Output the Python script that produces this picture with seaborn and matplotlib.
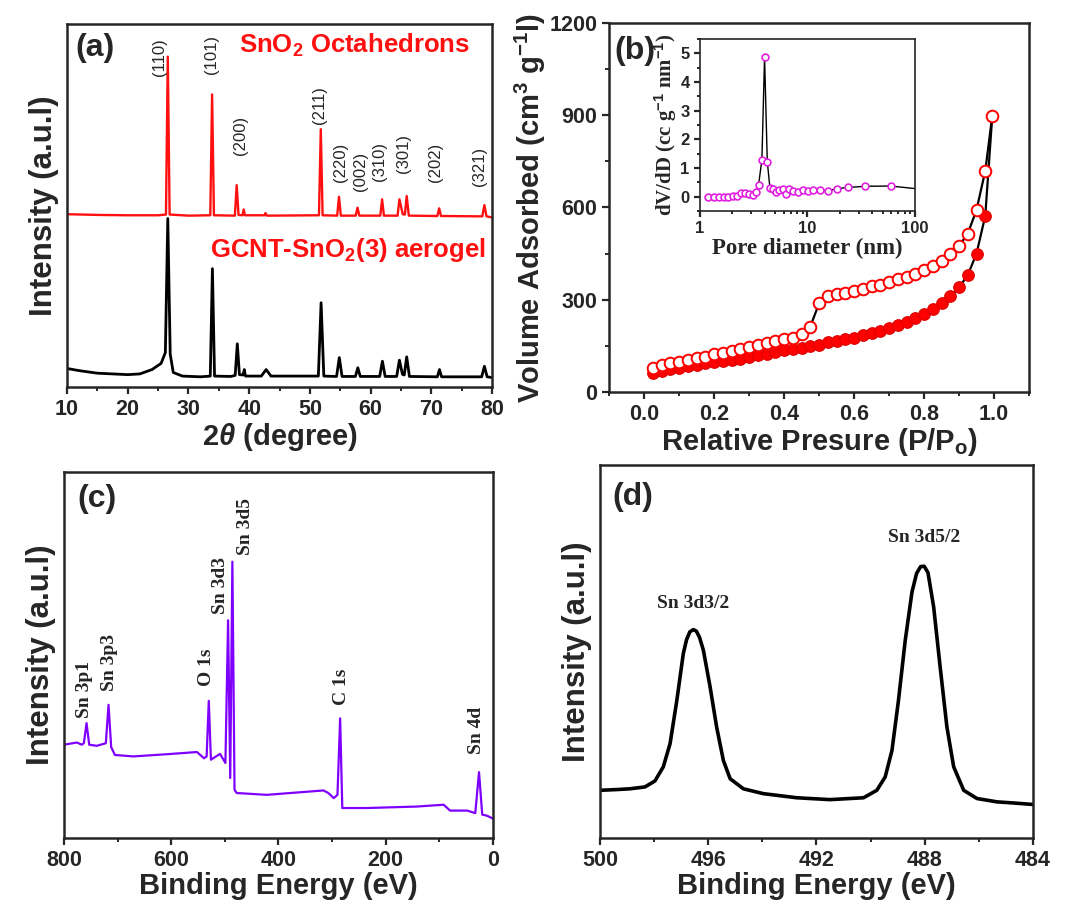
import numpy as np
import pandas as pd
import matplotlib
matplotlib.use("Agg")
import matplotlib.pyplot as plt
from matplotlib.ticker import MultipleLocator, LogLocator, NullFormatter
import seaborn as sns

# ---- (a) XRD patterns (2theta in degree, intensity in a.u.)
xrd_red_2theta = [10, 15, 20, 25, 26.3, 26.6, 26.9, 30, 33.6, 33.9, 34.2, 37.65, 37.95, 38.25,
                  38.9, 39.1, 39.3, 42.5, 42.7, 42.9, 51.5, 51.8, 52.1, 54.5, 54.8, 55.1,
                  57.55, 57.85, 58.15, 61.6, 61.9, 62.2, 64.45, 64.75, 65.3, 65.65, 65.95, 66.3,
                  71.0, 71.3, 71.6, 78.4, 78.75, 79.1, 80]
xrd_red_int = [47.6, 47.4, 47.3, 47.3, 47.5, 91.0, 47.5, 47.2, 47.3, 80.6, 47.3, 47.2, 55.6, 47.4,
               47.3, 48.9, 47.3, 47.3, 47.9, 47.2, 47.3, 71.0, 47.3, 47.2, 52.4, 47.2,
               47.2, 49.4, 47.2, 47.2, 51.7, 47.2, 47.2, 51.7, 47.6, 47.5, 52.6, 47.2,
               47.1, 49.2, 47.1, 47.0, 50.1, 47.0, 46.7]
xrd_black_2theta = [10, 12, 15, 20, 22, 24, 25.5, 26.2, 26.6, 27.0, 27.5, 29, 32, 33.6, 33.95, 34.3,
                    37.0, 37.7, 38.05, 38.4, 39.0, 39.2, 39.4, 42.0, 42.8, 43.6, 51.4, 51.85, 52.3,
                    54.4, 54.85, 55.3, 57.5, 57.9, 58.3, 61.5, 61.95, 62.4, 64.3, 64.75, 65.25,
                    65.55, 65.95, 66.4, 71.0, 71.35, 71.7, 78.3, 78.75, 79.2, 80]
xrd_black_int = [5.1, 4.5, 3.8, 3.4, 3.6, 4.8, 6.5, 9.5, 46.4, 9.0, 4.0, 3.0, 2.8, 3.0, 32.6, 3.0,
                 2.9, 3.2, 11.9, 3.4, 3.3, 4.8, 3.0, 3.0, 4.8, 3.0, 3.0, 23.2, 3.0,
                 2.9, 8.1, 2.9, 2.9, 5.3, 2.9, 2.9, 7.1, 2.9, 2.9, 7.4, 3.5,
                 3.3, 8.3, 2.9, 2.8, 4.8, 2.8, 2.8, 5.7, 2.8, 2.6]
hkl_labels = ["(110)", "(101)", "(200)", "(211)", "(220)", "(002)", "(310)", "(301)", "(202)", "(321)"]
hkl_pos = [25.3, 33.8, 38.6, 51.6, 55.0, 58.3, 61.5, 65.4, 70.7, 77.9]
hkl_height = [91.0, 91.5, 69.4, 77.7, 62.0, 59.3, 62.0, 64.3, 62.0, 60.7]

# ---- (b) N2 isotherm
p_rel = [0.025, 0.05, 0.075, 0.1, 0.125, 0.15, 0.175, 0.2, 0.225, 0.25, 0.275, 0.3, 0.325, 0.35,
         0.375, 0.4, 0.425, 0.45, 0.475, 0.5, 0.525, 0.55, 0.575, 0.6, 0.625, 0.65, 0.675, 0.7,
         0.725, 0.75, 0.775, 0.8, 0.825, 0.85, 0.875, 0.9, 0.925, 0.95, 0.975, 0.995]
v_ads = [61, 68, 74, 79, 85, 89, 93, 98, 101, 104, 108, 113, 119, 125, 130, 136, 139, 143, 148,
         154, 161, 166, 171, 177, 184, 193, 199, 207, 217, 228, 242, 253, 269, 289, 312, 340,
         380, 450, 573, 898]
v_des = [79, 87, 93, 99, 104, 110, 115, 122, 127, 133, 139, 145, 152, 158, 165, 171, 177, 190,
         212, 288, 312, 318, 323, 329, 334, 343, 349, 358, 367, 375, 385, 397, 410, 426, 448,
         475, 515, 592, 719, 898]
pore_d = [1.2, 1.36, 1.51, 1.67, 1.83, 2.01, 2.19, 2.41, 2.62, 2.88, 3.13, 3.32, 3.51, 3.77,
          3.99, 4.23, 4.48, 4.81, 5.09, 5.47, 5.88, 6.31, 6.77, 7.39, 8.2, 9.16, 10.2, 11.35,
          13.1, 15.6, 18.9, 23.9, 34.2, 59.3, 120]
dv_dd = [0.0, 0.0, 0.0, 0.0, 0.0, 0.02, 0.035, 0.12, 0.12, 0.1, 0.04, 0.15, 0.41, 1.29,
         4.88, 1.22, 0.29, 0.25, 0.15, 0.23, 0.26, 0.09, 0.27, 0.2, 0.16, 0.22, 0.18, 0.23,
         0.23, 0.21, 0.28, 0.32, 0.36, 0.37, 0.25]

# ---- (c) XPS survey
be_survey = [800, 776, 767, 763, 758, 753, 739, 722, 717, 712, 705, 671, 608, 552, 539, 534, 530,
             526, 509, 499, 494, 490, 486, 482, 478, 422, 360, 316, 307, 297, 290, 285, 281,
             235, 142, 92, 80, 48, 33, 26, 20, 11, 0]
int_survey = [25.5, 26.1, 25.5, 25.9, 31.4, 25.5, 25.2, 25.9, 36.4, 24.8, 22.7, 22.3, 22.9, 23.5,
              21.8, 22.3, 37.5, 21.4, 23.0, 20.5, 59.5, 16.4, 75.5, 13.2, 12.3, 11.8, 12.5, 13.0,
              12.3, 10.9, 11.8, 32.7, 8.2, 8.2, 8.6, 9.1, 7.5, 7.5, 6.8, 18.0, 6.4, 6.1, 5.3]
survey_labels = ["Sn 3p1", "Sn 3p3", "O 1s", "Sn 3d3", "Sn 3d5", "C 1s", "Sn 4d"]
survey_label_be = [761, 715.4, 533.7, 507.6, 461, 282, 29.8]
survey_label_y = [40.5, 48.0, 46.6, 69.0, 85.0, 41.2, 29.5]

# ---- (d) Sn 3d high resolution
be_sn3d = [500.0, 499.38, 498.9, 498.34, 497.97, 497.66, 497.41, 497.16, 496.92, 496.8, 496.68,
           496.55, 496.44, 496.32, 496.18, 495.93, 495.69, 495.44, 495.19, 494.7, 493.96, 492.73,
           491.5, 490.26, 489.77, 489.46, 489.21, 488.97, 488.72, 488.47, 488.3, 488.15, 488.02,
           487.88, 487.67, 487.43, 487.18, 486.93, 486.56, 486.07, 485.33, 484.72, 484.0]
int_sn3d = [12.8, 13.0, 13.2, 13.7, 15.3, 19.1, 25.3, 36.9, 49.5, 53.2, 55.3, 55.9, 55.5, 53.8,
            50.4, 40.5, 29.8, 20.8, 15.9, 13.2, 11.9, 10.8, 10.3, 10.8, 12.8, 16.4, 23.5, 36.9,
            53.0, 66.0, 71.0, 72.8, 72.9, 71.2, 62.0, 45.9, 29.8, 19.1, 12.8, 10.6, 9.7, 9.4, 9.0]

sns.set_style("ticks")
SANS = ["Liberation Sans", "DejaVu Sans"]
SERIF = ["Liberation Serif", "DejaVu Serif"]
plt.rcParams["font.family"] = SANS
plt.rcParams["font.weight"] = "bold"
plt.rcParams["mathtext.fontset"] = "custom"
plt.rcParams["mathtext.rm"] = "Liberation Sans"
plt.rcParams["mathtext.it"] = "Liberation Sans:italic:bold"
plt.rcParams["mathtext.bf"] = "Liberation Sans:bold"
plt.rcParams["axes.linewidth"] = 1.8
plt.rcParams["xtick.major.width"] = 1.6
plt.rcParams["ytick.major.width"] = 1.6
plt.rcParams["xtick.minor.width"] = 1.4
plt.rcParams["ytick.minor.width"] = 1.4
plt.rcParams["xtick.major.size"] = 5
plt.rcParams["ytick.major.size"] = 5
plt.rcParams["xtick.minor.size"] = 3
plt.rcParams["ytick.minor.size"] = 3

TICK_FS = 15.5
XLABEL_FS = 21
YLABEL_FS = 22.5
PANEL_FS = 23

fig = plt.figure(figsize=(10.67, 9.05), dpi=100)
ax_a = fig.add_axes([0.0628, 0.5724, 0.3983, 0.4011])
ax_b = fig.add_axes([0.5708, 0.5669, 0.3936, 0.4077])
ax_in = fig.add_axes([0.656, 0.7669, 0.2015, 0.190])
ax_c = fig.add_axes([0.060, 0.074, 0.402, 0.4044])
ax_d = fig.add_axes([0.5623, 0.074, 0.4058, 0.412])


def style_ticks(ax):
    for lab in ax.get_xticklabels() + ax.get_yticklabels():
        lab.set_fontweight("bold")
    ax.tick_params(which="both", direction="out", top=False, right=False)


# (a) XRD
sns.lineplot(x=xrd_red_2theta, y=xrd_red_int, ax=ax_a, color="#ff1010", lw=1.7, sort=False, estimator=None)
sns.lineplot(x=xrd_black_2theta, y=xrd_black_int, ax=ax_a, color="black", lw=2.0, sort=False, estimator=None)
ax_a.set_xlim(10, 80)
ax_a.set_ylim(0, 100)
ax_a.set_yticks([])
ax_a.xaxis.set_major_locator(MultipleLocator(10))
ax_a.xaxis.set_minor_locator(MultipleLocator(5))
ax_a.tick_params(axis="x", labelsize=TICK_FS)
style_ticks(ax_a)
ax_a.set_xlabel(r"$2\theta$ (degree)", fontsize=XLABEL_FS, fontweight="bold", labelpad=1)
ax_a.set_ylabel("Intensity (a.u.l)", fontsize=YLABEL_FS, fontweight="bold", labelpad=6)
for lab, xp, yp in zip(hkl_labels, hkl_pos, hkl_height):
    ax_a.text(xp, yp, lab, rotation=90, ha="center", va="center", family=SANS, fontsize=12,
              fontweight="normal")
ax_a.text(11.4, 93.3, "(a)", fontsize=PANEL_FS, fontweight="bold", va="center")
ax_a.text(38.3, 94.2, r"SnO$_\mathbf{2}$ Octahedrons", color="#ff1010", fontsize=18.5,
          fontweight="bold", va="center")
ax_a.text(33.6, 37.7, r"GCNT-SnO$_\mathbf{2}$(3) aerogel", color="#ff1010", fontsize=18.5,
          fontweight="bold", va="center")

# (b) isotherm
sns.lineplot(x=p_rel, y=v_ads, ax=ax_b, color="black", lw=1.6, sort=False, estimator=None)
sns.lineplot(x=p_rel, y=v_des, ax=ax_b, color="black", lw=1.6, sort=False, estimator=None)
sns.scatterplot(x=p_rel[:-1], y=v_ads[:-1], ax=ax_b, s=70, color="#ff0000", edgecolor="#dd0000",
                linewidth=0.8, zorder=3)
sns.scatterplot(x=p_rel, y=v_des, ax=ax_b, s=70, facecolor="white", edgecolor="#ff0000",
                linewidth=1.4, zorder=4)
ax_b.set_xlim(-0.1, 1.1)
ax_b.set_ylim(0, 1200)
ax_b.xaxis.set_minor_locator(MultipleLocator(0.1))
ax_b.yaxis.set_major_locator(MultipleLocator(300))
ax_b.yaxis.set_minor_locator(MultipleLocator(150))
ax_b.set_xticks([0.0, 0.2, 0.4, 0.6, 0.8, 1.0])
ax_b.set_xticklabels(["0.0", "0.2", "0.4", "0.6", "0.8", "1.0"])
ax_b.tick_params(labelsize=TICK_FS)
style_ticks(ax_b)
ax_b.set_xlabel(r"Relative Presure (P/P$_\mathbf{o}$)", fontsize=XLABEL_FS, fontweight="bold", labelpad=1)
ax_b.set_ylabel(r"Volume Adsorbed (cm$^\mathbf{3}$ g$^\mathbf{-1}$l)", fontsize=XLABEL_FS,
                fontweight="bold", labelpad=1)
ax_b.text(-0.085, 1110, "(b)", fontsize=PANEL_FS, fontweight="bold", va="center")

# inset pore size distribution
sns.lineplot(x=pore_d, y=dv_dd, ax=ax_in, color="black", lw=1.0, sort=False, estimator=None)
sns.scatterplot(x=pore_d, y=dv_dd, ax=ax_in, s=24, facecolor="white", edgecolor="#e020e0",
                linewidth=1.2, zorder=3)
ax_in.set_xscale("log")
ax_in.set_xlim(1, 100)
ax_in.set_ylim(-0.5, 5.5)
ax_in.set_xticks([1, 10, 100])
ax_in.set_xticklabels(["1", "10", "100"])
ax_in.xaxis.set_minor_locator(LogLocator(base=10, subs=np.arange(2, 10) * 1.0))
ax_in.xaxis.set_minor_formatter(NullFormatter())
ax_in.yaxis.set_major_locator(MultipleLocator(1))
ax_in.yaxis.set_minor_locator(MultipleLocator(0.5))
ax_in.tick_params(which="major", length=4, labelsize=12)
ax_in.tick_params(which="minor", length=2.5)
for sp in ax_in.spines.values():
    sp.set_linewidth(1.2)
style_ticks(ax_in)
ax_in.set_xlabel("Pore diameter (nm)", family=SERIF, fontsize=16.5, fontweight="bold", labelpad=1)
ax_in.set_ylabel(r"dV/dD (cc g$^\mathbf{-1}$ nm$^\mathbf{-1}$)", family=SERIF, fontsize=15,
                 fontweight="bold", labelpad=1)

# (c) XPS survey
sns.lineplot(x=be_survey, y=int_survey, ax=ax_c, color="#7f00ff", lw=1.6, sort=False, estimator=None)
ax_c.set_xlim(800, 0)
ax_c.set_ylim(0, 100)
ax_c.set_yticks([])
ax_c.xaxis.set_major_locator(MultipleLocator(200))
ax_c.xaxis.set_minor_locator(MultipleLocator(100))
ax_c.tick_params(axis="x", labelsize=TICK_FS)
style_ticks(ax_c)
ax_c.set_xlabel("Binding Energy (eV)", fontsize=XLABEL_FS, fontweight="bold", labelpad=1)
ax_c.set_ylabel("Intensity (a.u.l)", fontsize=YLABEL_FS, fontweight="bold", labelpad=6)
for lab, xp, yp in zip(survey_labels, survey_label_be, survey_label_y):
    ax_c.text(xp, yp, lab, rotation=90, ha="center", va="center", family=SERIF, fontsize=14,
              fontweight="bold")
ax_c.text(775, 92.7, "(c)", fontsize=PANEL_FS, fontweight="bold", va="center")

# (d) Sn 3d
sns.lineplot(x=be_sn3d, y=int_sn3d, ax=ax_d, color="black", lw=2.6, sort=False, estimator=None)
ax_d.set_xlim(500, 484)
ax_d.set_ylim(0, 100)
ax_d.set_yticks([])
ax_d.xaxis.set_major_locator(MultipleLocator(4))
ax_d.xaxis.set_minor_locator(MultipleLocator(2))
ax_d.tick_params(axis="x", labelsize=TICK_FS)
style_ticks(ax_d)
ax_d.set_xlabel("Binding Energy (eV)", fontsize=XLABEL_FS, fontweight="bold", labelpad=1)
ax_d.set_ylabel("Intensity (a.u.l)", fontsize=YLABEL_FS, fontweight="bold", labelpad=6)
ax_d.text(496.55, 62.9, "Sn 3d3/2", ha="center", va="center", family=SERIF, fontsize=14, fontweight="bold")
ax_d.text(488.04, 80.5, "Sn 3d5/2", ha="center", va="center", family=SERIF, fontsize=14, fontweight="bold")
ax_d.text(499.55, 91.5, "(d)", fontsize=PANEL_FS, fontweight="bold", va="center")

fig.savefig("out.png", dpi=100)
